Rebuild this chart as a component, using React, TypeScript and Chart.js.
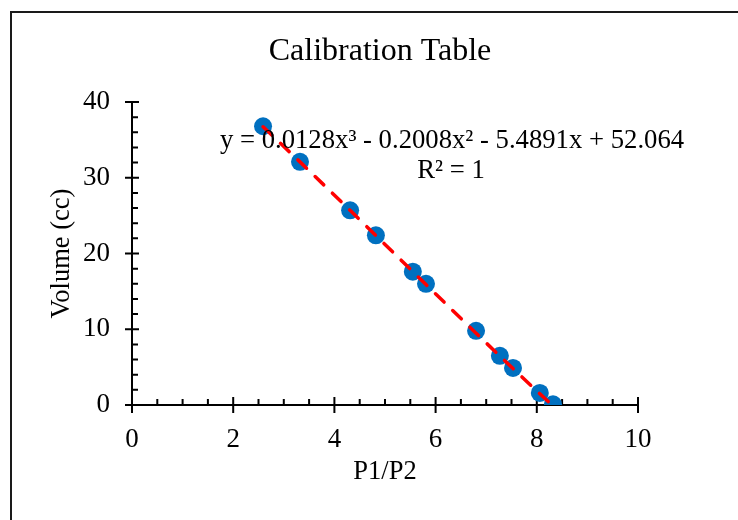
import React, { useEffect, useRef } from "react";
import { Chart, registerables } from "chart.js";

Chart.register(...registerables);

// ---- data ----
const ratioP1P2 = [2.59, 3.32, 4.31, 4.82, 5.55, 5.81, 6.8, 7.27, 7.53, 8.06, 8.32];
const volumeCc = [36.8, 32.1, 25.7, 22.4, 17.6, 16.0, 9.8, 6.5, 4.9, 1.6, 0.1];
const trendCoeffs = [0.0128, -0.2008, -5.4891, 52.064]; // cubic, highest power first
const xTickValues = [0, 2, 4, 6, 8, 10];
const yTickValues = [0, 10, 20, 30, 40];
const xMinorStep = 0.5;
const yMinorStep = 2;
const chartTitle = "Calibration Table";
const xTitle = "P1/P2";
const yTitle = "Volume (cc)";
const equationText = "y = 0.0128x³ - 0.2008x² - 5.4891x + 52.064";
const r2Text = "R² = 1";

const FONT = "'Liberation Serif', 'Times New Roman', serif";

const trendY = (x: number) =>
  trendCoeffs[0] * x * x * x + trendCoeffs[1] * x * x + trendCoeffs[2] * x + trendCoeffs[3];

const overlayPlugin = {
  id: "overlay",
  beforeDraw(chart: any) {
    const ctx = chart.ctx;
    ctx.save();
    ctx.strokeStyle = "#1a1a1a";
    ctx.lineWidth = 2;
    ctx.strokeRect(11, 12, 900, 700);
    ctx.restore();
  },
  beforeDatasetsDraw(chart: any) {
    const ctx = chart.ctx;
    const xs = chart.scales.x;
    const ys = chart.scales.y;
    const x0 = xs.getPixelForValue(xs.min);
    const x1 = xs.getPixelForValue(xs.max);
    const y0 = ys.getPixelForValue(ys.min);
    const y1 = ys.getPixelForValue(ys.max);
    ctx.save();
    ctx.strokeStyle = "#000";
    ctx.lineWidth = 2;
    ctx.beginPath();
    ctx.moveTo(x0 - 1, y0);
    ctx.lineTo(x1 + 1, y0);
    ctx.moveTo(x0, y0 + 1);
    ctx.lineTo(x0, y1 - 1);
    xTickValues.forEach((v) => {
      const p = xs.getPixelForValue(v);
      ctx.moveTo(p, y0 - 8);
      ctx.lineTo(p, y0 + 8);
    });
    for (let v = xs.min; v <= xs.max + 1e-9; v += xMinorStep) {
      if (xTickValues.some((t) => Math.abs(t - v) < 1e-9)) continue;
      const p = xs.getPixelForValue(v);
      ctx.moveTo(p, y0 - 6);
      ctx.lineTo(p, y0);
    }
    yTickValues.forEach((v) => {
      const p = ys.getPixelForValue(v);
      ctx.moveTo(x0 - 7, p);
      ctx.lineTo(x0 + 7, p);
    });
    for (let v = ys.min; v <= ys.max + 1e-9; v += yMinorStep) {
      if (yTickValues.some((t) => Math.abs(t - v) < 1e-9)) continue;
      const p = ys.getPixelForValue(v);
      ctx.moveTo(x0, p);
      ctx.lineTo(x0 + 6, p);
    }
    ctx.stroke();
    ctx.restore();
  },
  afterDatasetsDraw(chart: any) {
    const ctx = chart.ctx;
    ctx.save();
    ctx.fillStyle = "#000";
    ctx.textAlign = "center";
    ctx.textBaseline = "middle";
    ctx.font = `32px ${FONT}`;
    ctx.fillText(chartTitle, 380, 52);
    ctx.font = `26.7px ${FONT}`;
    ctx.fillText(equationText, 452, 141);
    ctx.fillText(r2Text, 451, 171);
    ctx.restore();
  },
};

export default function App() {
  const ref = useRef<HTMLCanvasElement | null>(null);

  useEffect(() => {
    if (!ref.current) return;
    const trendPoints = ratioP1P2.map((x) => ({ x, y: trendY(x) }));
    const points = ratioP1P2.map((x, i) => ({ x, y: volumeCc[i] }));
    const chart = new Chart(ref.current, {
      type: "scatter",
      data: {
        datasets: [
          {
            label: "Trend",
            data: trendPoints,
            showLine: true,
            borderColor: "#FF0000",
            borderWidth: 3.5,
            borderDash: [12, 12],
            borderCapStyle: "round",
            pointRadius: 0,
            pointHoverRadius: 0,
            fill: false,
            order: 0,
          } as any,
          {
            label: "Volume",
            data: points,
            backgroundColor: "#0070C0",
            borderColor: "#0070C0",
            borderWidth: 0,
            pointRadius: 9,
            pointHoverRadius: 9,
            order: 1,
          },
        ],
      },
      options: {
        animation: false,
        responsive: false,
        devicePixelRatio: 1,
        layout: { padding: { left: 0, right: 100, top: 102, bottom: 0 } },
        plugins: {
          legend: { display: false },
          title: { display: false },
          tooltip: { enabled: false },
        },
        scales: {
          x: {
            type: "linear",
            min: 0,
            max: 10,
            afterBuildTicks: (s: any) => {
              s.ticks = xTickValues.map((v) => ({ value: v }));
            },
            afterFit: (s: any) => {
              s.height = 115;
            },
            grid: { display: false, drawTicks: false },
            border: { display: false },
            ticks: {
              color: "#000",
              font: { family: FONT, size: 27 },
              padding: 19,
              maxRotation: 0,
            },
            title: {
              display: true,
              text: xTitle,
              color: "#000",
              font: { family: FONT, size: 26.5 },
              padding: { top: 0, bottom: 32 },
            },
          },
          y: {
            type: "linear",
            min: 0,
            max: 40,
            afterBuildTicks: (s: any) => {
              s.ticks = yTickValues.map((v) => ({ value: v }));
            },
            afterFit: (s: any) => {
              s.width = 132;
            },
            grid: { display: false, drawTicks: false },
            border: { display: false },
            ticks: {
              color: "#000",
              font: { family: FONT, size: 27 },
              padding: 22,
            },
            title: {
              display: true,
              text: yTitle,
              color: "#000",
              font: { family: FONT, size: 26.5 },
              padding: { top: 46, bottom: 0 },
            },
          },
        },
      },
      plugins: [overlayPlugin],
    });
    return () => chart.destroy();
  }, []);

  return (
    <div style={{ position: "fixed", left: 0, top: 0, width: 738, height: 520, background: "#fff" }}>
      <canvas ref={ref} width={738} height={520} style={{ display: "block" }} />
    </div>
  );
}
